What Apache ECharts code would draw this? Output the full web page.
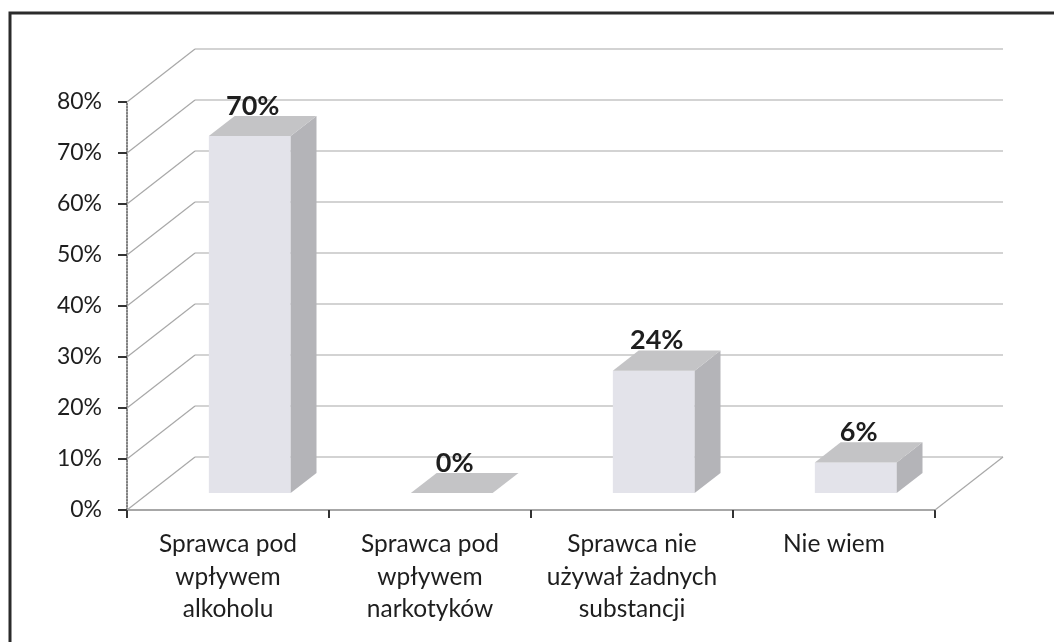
<!DOCTYPE html>
<html>
<head>
<meta charset="utf-8">
<script src="https://cdn.jsdelivr.net/npm/echarts@6/dist/echarts.min.js"></script>
<style>
  html, body { margin: 0; padding: 0; background: #fff; }
  #chart { width: 1054px; height: 642px; }
</style>
</head>
<body>
<div id="chart"></div>
<script>
const categories = [
  'Sprawca pod\nwpływem\nalkoholu',
  'Sprawca pod\nwpływem\nnarkotyków',
  'Sprawca nie\nużywał żadnych\nsubstancji',
  'Nie wiem'
];
const values = [70, 0, 24, 6];
const yTicks = [0, 10, 20, 30, 40, 50, 60, 70, 80];

// 3d depth offset of the back wall, in pixels
const DX = 68;
const DY = -53;
const BAR_Z0 = 0.32;
const BAR_Z1 = 0.70;
const FONT = 'Lato, "Noto Sans", sans-serif';

const chart = echarts.init(document.getElementById('chart'));

function renderWall(params, api) {
  const v = api.value(1);
  const bw = api.size([1, 0])[0];
  const left = api.coord([0, v]);
  const right = api.coord([categories.length - 1, v]);
  const x0 = left[0] - bw / 2;
  const x1 = right[0] + bw / 2;
  const y = left[1];
  const lineStyle = { stroke: '#a8a8a8', lineWidth: 1.2 };
  const children = [
    { type: 'line', shape: { x1: x0, y1: y, x2: x0 + DX, y2: y + DY }, style: lineStyle },
    { type: 'line', shape: { x1: x0 + DX, y1: y + DY, x2: x1 + DX, y2: y + DY }, style: lineStyle }
  ];
  if (v === 0) {
    children.push({ type: 'line', shape: { x1: x1, y1: y, x2: x1 + DX, y2: y + DY }, style: lineStyle });
  }
  return { type: 'group', children };
}

function renderBar(params, api) {
  const i = api.value(0);
  const v = api.value(1);
  const base = api.coord([i, 0]);
  const top = api.coord([i, v]);
  const bw = api.size([1, 0])[0];
  const w = bw * 0.405;
  const ox0 = DX * BAR_Z0, oy0 = DY * BAR_Z0;
  const ox1 = DX * BAR_Z1, oy1 = DY * BAR_Z1;
  const xl = base[0] - w / 2, xr = base[0] + w / 2;
  const yb = base[1], yt = top[1];
  const children = [];
  if (v > 0) {
    children.push({
      type: 'polygon',
      shape: { points: [[xl + ox0, yb + oy0], [xr + ox0, yb + oy0], [xr + ox0, yt + oy0], [xl + ox0, yt + oy0]] },
      style: { fill: '#e3e3ea' }
    });
    children.push({
      type: 'polygon',
      shape: { points: [[xr + ox0, yb + oy0], [xr + ox1, yb + oy1], [xr + ox1, yt + oy1], [xr + ox0, yt + oy0]] },
      style: { fill: '#b4b4b8' }
    });
  }
  children.push({
    type: 'polygon',
    shape: { points: [[xl + ox0, yt + oy0], [xr + ox0, yt + oy0], [xr + ox1, yt + oy1], [xl + ox1, yt + oy1]] },
    style: { fill: '#c4c4c6' }
  });
  children.push({
    type: 'text',
    style: {
      text: v + '%',
      x: base[0] + ox0 + 3,
      y: yt + oy1 - 10,
      align: 'center',
      verticalAlign: 'middle',
      font: 'bold 27px ' + FONT,
      fill: '#1e1e1e'
    }
  });
  return { type: 'group', children };
}

chart.setOption({
  backgroundColor: '#fff',
  animation: false,
  graphic: [{
    type: 'rect',
    shape: { x: 10, y: 13, width: 1100, height: 700 },
    style: { fill: 'none', stroke: '#2b2b2b', lineWidth: 3 },
    z: 100
  }],
  grid: { left: 127, right: 119, top: 102, bottom: 132 },
  xAxis: {
    type: 'category',
    data: categories,
    axisLine: { lineStyle: { color: '#8a8a8a', width: 1.5 } },
    axisTick: { show: true, length: 8, lineStyle: { color: '#333', width: 2 } },
    axisLabel: {
      interval: 0,
      margin: 18,
      fontSize: 24.5,
      lineHeight: 32.5,
      color: '#1e1e1e',
      fontFamily: FONT
    },
    splitLine: { show: false }
  },
  yAxis: {
    type: 'value',
    min: 0,
    max: 80,
    interval: 10,
    axisLine: { show: true, lineStyle: { color: '#555', type: 'dotted', width: 1.5 } },
    axisTick: { show: true, length: 9, lineStyle: { color: '#333', width: 2 } },
    axisLabel: {
      formatter: '{value}%',
      margin: 25,
      fontSize: 23,
      color: '#1e1e1e',
      fontFamily: FONT
    },
    splitLine: { show: false }
  },
  series: [
    {
      type: 'custom',
      name: 'walls',
      clip: false,
      silent: true,
      z: 1,
      renderItem: renderWall,
      data: yTicks.map(v => [0, v])
    },
    {
      type: 'custom',
      name: 'bars',
      clip: false,
      z: 2,
      renderItem: renderBar,
      data: values.map((v, i) => [i, v])
    }
  ]
});
</script>
</body>
</html>
